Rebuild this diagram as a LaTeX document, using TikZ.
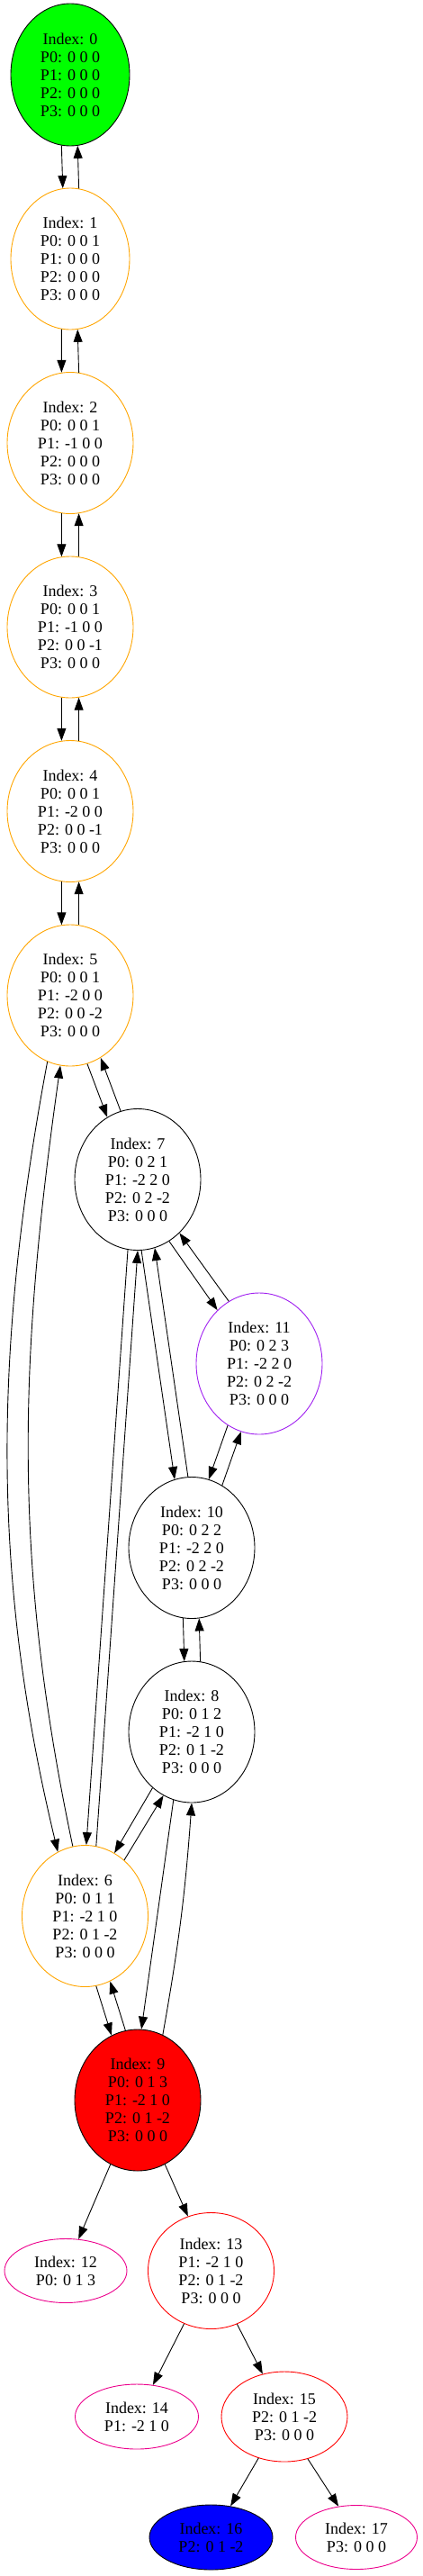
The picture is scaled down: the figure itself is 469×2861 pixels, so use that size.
\documentclass[tikz,border=0pt]{standalone}
\usepackage{fontspec}
\setmainfont{Liberation Serif}
\usetikzlibrary{shapes,arrows.meta,positioning}
\definecolor{gvorange}{HTML}{FFA500}
\definecolor{gvpurple}{HTML}{A020F0}
\tikzset{%
statenode/.style={ellipse, draw, line width=0.9pt, inner sep=0pt, align=center, font=\fontsize{18}{20}\selectfont, minimum width=140pt, minimum height=157pt},
leafnode/.style={statenode, minimum width=137pt, minimum height=72pt},
trans/.style={draw=black, line width=0.9pt, -{Triangle[length=14pt,width=10pt]}}
}

\begin{document}
\begin{tikzpicture}[x=1pt, y=1pt, node distance=204.5pt]
		\useasboundingbox (0,0) rectangle (469,-2861);
		\node[statenode, fill=green, minimum width=132pt, minimum height=158pt] (zero) at (78,-83) {Index: 0\\P0: 0 0 0\\P1: 0 0 0\\P2: 0 0 0\\P3: 0 0 0};
		\node[statenode, draw=gvorange, minimum width=132pt] (one) [below of=zero] {Index: 1\\P0: 0 0 1\\P1: 0 0 0\\P2: 0 0 0\\P3: 0 0 0};
		\node[statenode, draw=gvorange] (two) [below of=one] {Index: 2\\P0: 0 0 1\\P1: -1 0 0\\P2: 0 0 0\\P3: 0 0 0};
		\node[statenode, draw=gvorange] (three) [below of=two] {Index: 3\\P0: 0 0 1\\P1: -1 0 0\\P2: 0 0 -1\\P3: 0 0 0};
		\node[statenode, draw=gvorange] (four) [below of=three] {Index: 4\\P0: 0 0 1\\P1: -2 0 0\\P2: 0 0 -1\\P3: 0 0 0};
		\node[statenode, draw=gvorange] (five) [below of=four] {Index: 5\\P0: 0 0 1\\P1: -2 0 0\\P2: 0 0 -2\\P3: 0 0 0};
		\node[statenode] (seven) [below of=five, xshift=75pt] {Index: 7\\P0: 0 2 1\\P1: -2 2 0\\P2: 0 2 -2\\P3: 0 0 0};
		\node[statenode, draw=gvpurple] (eleven) [below of=seven, xshift=135pt] {Index: 11\\P0: 0 2 3\\P1: -2 2 0\\P2: 0 2 -2\\P3: 0 0 0};
		\node[statenode] (ten) [below of=eleven, xshift=-75pt] {Index: 10\\P0: 0 2 2\\P1: -2 2 0\\P2: 0 2 -2\\P3: 0 0 0};
		\node[statenode] (eight) [below of=ten] {Index: 8\\P0: 0 1 2\\P1: -2 1 0\\P2: 0 1 -2\\P3: 0 0 0};
		\node[statenode, draw=gvorange] (six) [below of=eight, xshift=-118.5pt] {Index: 6\\P0: 0 1 1\\P1: -2 1 0\\P2: 0 1 -2\\P3: 0 0 0};
		\node[statenode, fill=red] (nine) [below of=six, xshift=58.5pt] {Index: 9\\P0: 0 1 3\\P1: -2 1 0\\P2: 0 1 -2\\P3: 0 0 0};
		\node[leafnode, draw=magenta, minimum width=136pt, minimum height=71pt] (twelve) [below of=nine, yshift=15pt, xshift=-80pt] {Index: 12\\P0: 0 1 3};
		\node[statenode, draw=red, minimum height=129pt] (thirteen) [below of=nine, yshift=15pt, xshift=81.5pt] {Index: 13\\P1: -2 1 0\\P2: 0 1 -2\\P3: 0 0 0};
		\node[leafnode, draw=magenta] (fourteen) [below of=thirteen, yshift=42.5pt, xshift=-82.5pt] {Index: 14\\P1: -2 1 0};
		\node[statenode, draw=red, minimum height=100pt] (fifteen) [below of=thirteen, yshift=42.5pt, xshift=81.5pt] {Index: 15\\P2: 0 1 -2\\P3: 0 0 0};
		\node[leafnode, fill=blue] (sixteen) [below of=fifteen, yshift=70.5pt, xshift=-81.5pt] {Index: 16\\P2: 0 1 -2};
		\node[leafnode, draw=magenta, minimum width=135pt, minimum height=71pt] (seventeen) [below of=fifteen, yshift=70.5pt, xshift=80pt] {Index: 17\\P3: 0 0 0};
		
		% chain 0 .. 5
		\draw[trans] (zero.263.5) -- (one.96.5);
		\draw[trans] (one.83.5) -- (zero.276.5);
		\draw[trans] (one.263.5) -- (two.97);
		\draw[trans] (two.83) -- (one.276.5);
		\draw[trans] (two.263) -- (three.97);
		\draw[trans] (three.83) -- (two.277);
		\draw[trans] (three.263) -- (four.97);
		\draw[trans] (four.83) -- (three.277);
		\draw[trans] (four.263) -- (five.97);
		\draw[trans] (five.83) -- (four.277);
		
		\draw[trans] (five.284) -- (seven.116.2);
		\draw[trans] (seven.104.2) -- (five.296.6);
		\draw[trans] (five.251.3) .. controls +(-58.6,-314) and +(-75,311) .. (six.113.9);
		\draw[trans] (six.100.1) .. controls +(-67.5,319) and +(-45.6,-323) .. (five.262.6);
		
		\draw[trans] (seven.262) -- (six.89.6);
		\draw[trans] (six.81.5) -- (seven.270);
		\draw[trans] (seven.273) -- (ten.104.6);
		\draw[trans] (ten.93.6) -- (seven.284);
		\draw[trans] (seven.297.9) -- (eleven.128);
		\draw[trans] (eleven.116.3) -- (seven.308);
		
		\draw[trans] (eleven.243.4) -- (ten.76);
		\draw[trans] (ten.64.1) -- (eleven.255);
		\draw[trans] (ten.263.5) -- (eight.96.5);
		\draw[trans] (eight.83.5) -- (ten.276.5);
		
		\draw[trans] (eight.235.1) -- (six.65.5);
		\draw[trans] (six.55) -- (eight.246.1);
		\draw[trans] (eight.255.3) -- (nine.87.1);
		\draw[trans] (nine.69.7) to [bend right=3] (eight.270);
		\draw[trans] (six.279.1) -- (nine.112.2);
		\draw[trans] (nine.100.2) -- (six.291.9);
		
		\draw[trans] (nine.247.4) -- (twelve.68.2);
		\draw[trans] (nine.293.6) -- (thirteen.113);
		\draw[trans] (thirteen.243) -- (fourteen.63.4);
		\draw[trans] (thirteen.296.6) -- (fifteen.117);
		\draw[trans] (fifteen.238.3) -- (sixteen.58.9);
		\draw[trans] (fifteen.299.9) -- (seventeen.120.5);
	\end{tikzpicture}
\end{document}
